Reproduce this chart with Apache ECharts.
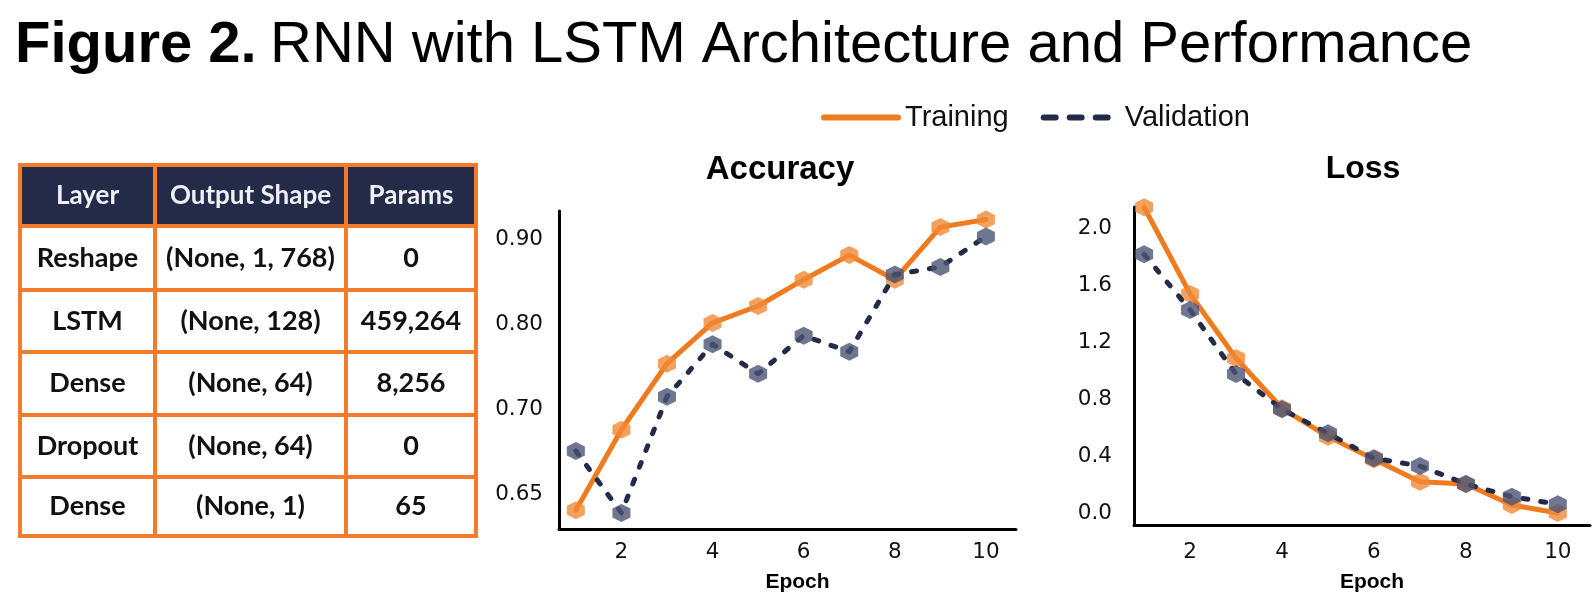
<!DOCTYPE html>
<html>
<head>
<meta charset="utf-8">
<script src="https://cdn.jsdelivr.net/npm/echarts@6.0.0/dist/echarts.min.js"></script>
<style>
  html, body { margin: 0; padding: 0; background: #fff; }
  #chart { width: 1594px; height: 609px; }
</style>
</head>
<body>
<div id="chart"></div>
<script>
// ---- data ----
const epochs = [1, 2, 3, 4, 5, 6, 7, 8, 9, 10]
const accTraining = [0.581, 0.676, 0.754, 0.802, 0.822, 0.853, 0.882, 0.853, 0.915, 0.924]
const accValidation = [0.651, 0.578, 0.715, 0.777, 0.742, 0.787, 0.768, 0.859, 0.868, 0.904]
const lossTraining = [2.145, 1.537, 1.086, 0.735, 0.536, 0.377, 0.22, 0.204, 0.056, 0.0]
const lossValidation = [1.815, 1.425, 0.975, 0.728, 0.559, 0.384, 0.33, 0.204, 0.115, 0.061]
const epochTicks = [2, 4, 6, 8, 10]
// the source figure labels its lowest accuracy tick "0.65" (placed where 0.60 falls)
const accTickValues = [0.6, 0.7, 0.8, 0.9]
const accTickLabels = ['0.65', '0.70', '0.80', '0.90']
const lossTickValues = [0.0, 0.4, 0.8, 1.2, 1.6, 2.0]

const tableHeader = ['Layer', 'Output Shape', 'Params']
const layerNames = ['Reshape', 'LSTM', 'Dense', 'Dropout', 'Dense']
const outputShapes = ['(None, 1, 768)', '(None, 128)', '(None, 64)', '(None, 64)', '(None, 1)']
const paramCounts = ['0', '459,264', '8,256', '0', '65']

// ---- style ----
const ORANGE = '#ef7b1f'
const BORDER = '#f47b2c'
const NAVY = '#242b48'
const HEX = 'path://M0,-10 L8.66,-5 L8.66,5 L0,10 L-8.66,5 L-8.66,-5 Z'

// table
const colEdges = [20, 155, 346, 476]
const rowEdges = [165, 226, 290, 352, 415, 477, 536]
const tableGraphics = []
const rows = [tableHeader].concat(layerNames.map((n, i) => [n, outputShapes[i], paramCounts[i]]))
rows.forEach((row, r) => {
  row.forEach((txt, c) => {
    const x0 = colEdges[c], x1 = colEdges[c + 1]
    const y0 = rowEdges[r], y1 = rowEdges[r + 1]
    tableGraphics.push({
      type: 'rect',
      shape: { x: x0, y: y0, width: x1 - x0, height: y1 - y0 },
      style: { fill: r === 0 ? NAVY : '#fff', stroke: BORDER, lineWidth: 4 }
    })
    tableGraphics.push({
      type: 'text',
      style: {
        text: txt,
        x: (x0 + x1) / 2,
        y: (y0 + y1) / 2,
        align: 'center',
        verticalAlign: 'middle',
        fill: r === 0 ? '#eef0f6' : '#111',
        fontFamily: 'Lato',
        fontWeight: 'bold',
        fontSize: r === 0 ? 26 : 27
      }
    })
  })
})

const tickFont = { fontFamily: 'DejaVu Sans', fontSize: 21.5, color: '#111' }
const axisLine = { show: true, onZero: false, lineStyle: { color: '#000', width: 3 } }

function xAxisFor(gridIndex, min, max, extra) {
  return {
    gridIndex,
    type: 'value',
    min, max,
    name: 'Epoch',
    nameLocation: 'middle',
    nameGap: 43 + extra,
    nameTextStyle: { fontFamily: 'Liberation Sans', fontWeight: 'bold', fontSize: 21, color: '#000', padding: [0, 0, 0, 20] },
    axisLine,
    axisTick: { show: false },
    splitLine: { show: false },
    axisLabel: { ...tickFont, margin: 12 + extra, customValues: epochTicks }
  }
}

function lineSeries(name, xi, data, color, dashed) {
  return {
    name,
    type: 'line',
    xAxisIndex: xi,
    yAxisIndex: xi,
    data: epochs.map((e, i) => [e, data[i]]),
    symbol: HEX,
    symbolSize: 18,
    lineStyle: { color, width: 5, type: dashed ? [5, 13] : 'solid', cap: 'round', join: 'round' },
    itemStyle: { color: dashed ? '#4b5473' : '#f08a36', opacity: 0.8 },
    z: dashed ? 3 : 2
  }
}

const option = {
  animation: false,
  textStyle: { fontFamily: 'Liberation Sans' },
  graphic: [
    {
      type: 'text',
      style: { text: 'Figure 2.', x: 15, y: 46, verticalAlign: 'middle', fill: '#000', fontFamily: 'Liberation Sans', fontWeight: 'bold', fontSize: 58 }
    },
    {
      type: 'text',
      style: { text: 'RNN with LSTM Architecture and Performance', x: 270, y: 46, verticalAlign: 'middle', fill: '#000', fontFamily: 'Liberation Sans', fontSize: 58 }
    }
  ].concat(tableGraphics),
  title: [
    { text: 'Accuracy', left: 775, top: 148, textAlign: 'center', textStyle: { fontFamily: 'Liberation Sans', fontWeight: 'bold', fontSize: 33, color: '#000' } },
    { text: 'Loss', left: 1358, top: 148, textAlign: 'center', textStyle: { fontFamily: 'Liberation Sans', fontWeight: 'bold', fontSize: 32, color: '#000' } }
  ],
  legend: {
    left: 816,
    top: 98,
    itemWidth: 74,
    itemHeight: 14,
    itemGap: 32,
    textStyle: { fontFamily: 'Liberation Sans', fontSize: 29, color: '#111', padding: [0, 0, 0, 2] },
    itemStyle: { opacity: 0 },
    data: [
      { name: 'Training', lineStyle: { width: 6, type: 'solid' } },
      { name: 'Validation', lineStyle: { width: 6, type: [12, 14], cap: 'round' } }
    ]
  },
  grid: [
    { left: 559, right: 578, top: 211, bottom: 80 },
    { left: 1134, right: 4, top: 207, bottom: 84 }
  ],
  xAxis: [xAxisFor(0, 0.63, 10.66, 0), xAxisFor(1, 0.78, 10.7, 4)],
  yAxis: [
    {
      gridIndex: 0,
      type: 'value',
      min: 0.559,
      max: 0.934,
      axisLine,
      axisTick: { show: false },
      splitLine: { show: false },
      axisLabel: {
        ...tickFont,
        margin: 16,
        customValues: accTickValues,
        formatter: v => {
          const i = accTickValues.findIndex(t => Math.abs(t - v) < 1e-6)
          return i >= 0 ? accTickLabels[i] : ''
        }
      }
    },
    {
      gridIndex: 1,
      type: 'value',
      min: -0.084,
      max: 2.147,
      axisLine,
      axisTick: { show: false },
      splitLine: { show: false },
      axisLabel: { ...tickFont, margin: 22, customValues: lossTickValues, formatter: v => v.toFixed(1) }
    }
  ],
  series: [
    lineSeries('Training', 0, accTraining, ORANGE, false),
    lineSeries('Validation', 0, accValidation, NAVY, true),
    lineSeries('Training', 1, lossTraining, ORANGE, false),
    lineSeries('Validation', 1, lossValidation, NAVY, true)
  ]
}

const chart = echarts.init(document.getElementById('chart'))
chart.setOption(option)
</script>
</body>
</html>
